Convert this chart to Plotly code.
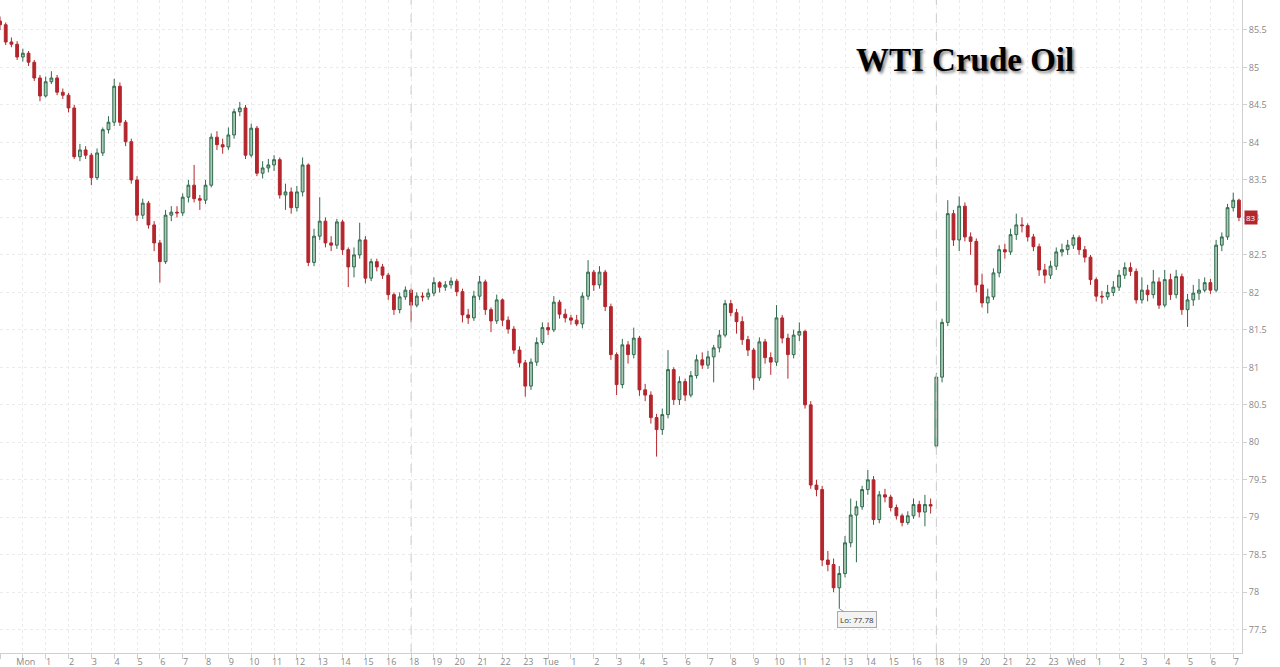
import pandas as pd
import plotly.graph_objects as go

# WTI front-month, 15-minute bars from Sunday 23:00 to Wednesday 07:15 (daily 17:00 break skipped)
start = "2024-04-28 23:00"
end = "2024-05-01 07:15"
first_open = 85.62
session_open = {"2024-04-30 18:00": 79.95}  # gap open after the Tuesday break

close = [
    85.57, 85.34, 85.31, 85.14,
    # Mon
    85.19, 85.07, 84.86, 84.62, 84.81, 84.86, 84.67, 84.63, 84.46, 83.81,
    83.9, 83.83, 83.53, 83.86, 84.17, 84.27, 84.75, 84.27, 84.01, 83.5,
    83.03, 83.19, 82.9, 82.66, 82.41, 83.03, 83.07, 83.06, 83.27, 83.43,
    83.25, 83.23, 83.43, 84.07, 83.97, 83.94, 84.1, 84.41, 84.46, 83.83,
    84.19, 83.59, 83.66, 83.7, 83.77, 83.3, 83.34, 83.13, 83.34, 83.7,
    82.4, 82.75, 82.95, 82.66, 82.63, 82.94, 82.57, 82.34, 82.5, 82.7,
    82.19, 82.41, 82.34, 82.23, 81.97, 81.77, 81.94, 82.03,
    # Mon evening
    81.83, 81.95, 81.94, 81.99, 82.13, 82.07, 82.1, 82.15, 82.01, 81.7,
    81.66, 81.95, 82.14, 81.77, 81.62, 81.9, 81.63, 81.51, 81.23, 81.06,
    80.75, 81.07, 81.33, 81.53,
    # Tue
    81.5, 81.87, 81.71, 81.66, 81.63, 81.58, 81.95, 82.27, 82.1, 82.27,
    81.81, 81.17, 80.77, 81.3, 81.17, 81.39, 80.7, 80.63, 80.33, 80.17,
    80.37, 80.97, 80.57, 80.81, 80.63, 80.89, 81.1, 81.03, 81.14, 81.26,
    81.43, 81.85, 81.73, 81.61, 81.37, 81.23, 80.86, 81.34, 81.13, 81.07,
    81.66, 81.39, 81.17, 81.43, 81.48, 80.5, 79.43, 79.37, 78.43, 78.37,
    78.06, 78.25, 78.66, 79.03, 79.14, 79.37, 79.5, 78.97, 79.3, 79.27,
    79.13, 79.02, 78.93, 79.02, 79.17, 79.07, 79.17, 79.15,
    # Tue evening
    80.87, 81.6, 83.05, 82.7, 83.15, 82.74, 82.68, 82.1, 81.86, 81.94,
    82.26, 82.57, 82.54, 82.77, 82.9, 82.89, 82.74, 82.61, 82.3, 82.23,
    82.35, 82.54, 82.57, 82.63,
    # Wed
    82.73, 82.57, 82.47, 82.17, 81.95, 81.94, 82.0, 82.07, 82.23, 82.33,
    82.28, 81.9, 82.03, 81.97, 82.14, 81.83, 82.17, 81.97, 82.21, 81.77,
    81.9, 81.99, 82.03, 82.13, 82.03, 82.63, 82.74, 83.13, 83.23, 83.0,
]

high = [
    85.68, 85.6, 85.4, 85.35,
    85.25, 85.22, 85.1, 84.9, 84.88, 84.95, 84.9, 84.72, 84.66, 84.5,
    83.98, 83.95, 83.86, 83.92, 84.2, 84.35, 84.85, 84.8, 84.3, 84.05,
    83.55, 83.25, 83.22, 82.95, 82.7, 83.1, 83.15, 83.15, 83.32, 83.5,
    83.7, 83.3, 83.5, 84.12, 84.15, 84.05, 84.2, 84.45, 84.54, 84.5,
    84.25, 84.22, 83.75, 83.78, 83.83, 83.8, 83.45, 83.4, 83.42, 83.8,
    83.72, 82.85, 83.27, 83.0, 82.75, 82.98, 82.97, 82.6, 82.6, 82.93,
    82.75, 82.45, 82.45, 82.38, 82.26, 82.0, 82.0, 82.08,
    82.05, 82.0, 82.0, 82.05, 82.2, 82.15, 82.15, 82.2, 82.18, 82.05,
    81.78, 82.02, 82.22, 82.17, 81.8, 81.97, 81.92, 81.68, 81.55, 81.28,
    81.1, 81.12, 81.4, 81.6,
    81.6, 81.95, 81.9, 81.78, 81.7, 81.7, 82.0, 82.43, 82.3, 82.35,
    82.3, 81.85, 81.2, 81.38, 81.35, 81.53, 81.42, 80.78, 80.68, 80.38,
    80.45, 81.23, 81.0, 80.88, 80.85, 80.95, 81.17, 81.2, 81.22, 81.3,
    81.5, 81.9, 81.9, 81.78, 81.68, 81.42, 81.26, 81.4, 81.38, 81.2,
    81.83, 81.7, 81.45, 81.5, 81.6, 81.5, 80.55, 79.5, 79.42, 78.55,
    78.45, 78.35, 78.75, 79.25, 79.22, 79.42, 79.63, 79.55, 79.35, 79.38,
    79.3, 79.17, 79.05, 79.08, 79.25, 79.22, 79.3, 79.25,
    80.92, 81.65, 83.23, 83.1, 83.28, 83.2, 82.8, 82.72, 82.25, 82.05,
    82.32, 82.63, 82.65, 82.85, 83.05, 83.0, 82.92, 82.78, 82.65, 82.38,
    82.42, 82.6, 82.65, 82.7,
    82.77, 82.76, 82.62, 82.5, 82.2, 82.02, 82.1, 82.15, 82.3, 82.4,
    82.4, 82.32, 82.2, 82.1, 82.3, 82.2, 82.3, 82.25, 82.3, 82.25,
    81.98, 82.1, 82.18, 82.2, 82.18, 82.7, 82.8, 83.18, 83.33, 83.25,
]

low = [
    85.5, 85.3, 85.27, 85.1,
    85.08, 85.02, 84.82, 84.55, 84.6, 84.78, 84.63, 84.58, 84.4, 83.78,
    83.75, 83.78, 83.43, 83.5, 83.82, 84.12, 84.22, 84.22, 83.95, 83.45,
    82.95, 82.98, 82.85, 82.55, 82.13, 82.38, 82.95, 83.0, 83.02, 83.2,
    83.2, 83.1, 83.18, 83.4, 83.9, 83.85, 83.9, 84.05, 84.35, 83.78,
    83.8, 83.55, 83.52, 83.6, 83.62, 83.25, 83.1, 83.05, 83.08, 83.28,
    82.35, 82.35, 82.7, 82.6, 82.55, 82.58, 82.5, 82.07, 82.2, 82.45,
    82.12, 82.15, 82.28, 82.18, 81.9, 81.7, 81.72, 81.9,
    81.6, 81.8, 81.88, 81.9, 81.95, 82.0, 82.02, 82.05, 81.95, 81.6,
    81.58, 81.62, 81.9, 81.7, 81.47, 81.58, 81.55, 81.45, 81.18, 81.0,
    80.61, 80.7, 81.02, 81.3,
    81.43, 81.47, 81.65, 81.6, 81.57, 81.55, 81.52, 81.9, 82.02, 82.05,
    81.75, 81.1, 80.63, 80.72, 81.05, 81.12, 80.62, 80.55, 80.25, 79.81,
    80.1, 80.32, 80.5, 80.5, 80.55, 80.6, 80.85, 80.98, 80.98, 80.8,
    81.2, 81.4, 81.68, 81.45, 81.3, 81.15, 80.7, 80.82, 81.05, 80.9,
    81.02, 81.32, 80.85, 81.12, 81.35, 80.45, 79.38, 79.28, 78.35, 78.28,
    78.0, 77.78, 78.2, 78.6, 78.4, 79.1, 79.3, 78.9, 78.92, 79.2,
    79.08, 78.97, 78.88, 78.9, 78.98, 79.0, 78.88, 79.05,
    79.92, 80.8, 81.55, 82.62, 82.55, 82.68, 82.5, 82.0, 81.8, 81.72,
    81.9, 82.2, 82.45, 82.5, 82.7, 82.8, 82.68, 82.55, 82.22, 82.12,
    82.18, 82.3, 82.48, 82.5,
    82.58, 82.5, 82.4, 82.1, 81.88, 81.85, 81.9, 81.95, 82.02, 82.18,
    82.22, 81.85, 81.85, 81.88, 81.92, 81.78, 81.8, 81.9, 81.92, 81.7,
    81.54, 81.82, 81.9, 82.0, 81.98, 82.0, 82.55, 82.7, 83.08, 82.95,
]

times = pd.date_range(start, end, freq="15min")
times = times[times.hour != 17]

opens = [first_open] + close[:-1]
for t, v in session_open.items():
    opens[times.get_loc(pd.Timestamp(t))] = v

# hourly ticks, day name at midnight
hours = pd.date_range(start, "2024-05-01 07:00", freq="h")
hours = hours[hours.hour != 17]
tick_text = [h.strftime("%a") if h.hour == 0 else str(h.hour) for h in hours]

fig = go.Figure()
fig.add_trace(go.Candlestick(
    x=times, open=opens, high=high, low=low, close=close,
    increasing=dict(line=dict(color="#2f6b4c", width=1), fillcolor="#a8c9b6"),
    decreasing=dict(line=dict(color="#b3262c", width=1), fillcolor="#b3262c"),
    whiskerwidth=0, showlegend=False,
))

# session start markers
for h in hours[hours.hour == 18]:
    fig.add_vline(x=h, line=dict(color="#cccccc", width=1, dash="dash"))

lo_i = low.index(min(low))
fig.add_annotation(
    x=times[lo_i], y=low[lo_i], text=f"Lo: {low[lo_i]:.2f}",
    showarrow=True, arrowhead=0, arrowwidth=1, arrowcolor="#999999",
    ax=18, ay=11, bgcolor="#f3f3f3", bordercolor="#aaaaaa", borderwidth=1, borderpad=2,
    font=dict(family="Open Sans", size=8, color="#333333"),
)

fig.add_annotation(
    x=1, xref="paper", xanchor="left", xshift=2, y=close[-1], yref="y",
    text=f"{close[-1]:g}", showarrow=False, bgcolor="#b3262c", borderpad=1,
    font=dict(family="Open Sans", size=8, color="white"),
)

fig.add_annotation(
    x=0.777, y=0.908, xref="paper", yref="paper", xanchor="center", yanchor="middle",
    text="WTI Crude Oil", showarrow=False,
    font=dict(family="Liberation Serif", size=33, color="black", weight="bold",
              shadow="2px 2px 3px #777777"),
)

fig.update_xaxes(
    type="date", range=[times[0], pd.Timestamp("2024-05-01 07:23")],
    rangebreaks=[dict(bounds=[17, 18], pattern="hour")],
    rangeslider_visible=False,
    tickvals=hours, ticktext=tick_text, ticklabelshift=3, ticklabelstandoff=-5,
    showgrid=True, gridcolor="#ebebeb", griddash="dot",
    ticks="outside", ticklen=5, tickcolor="#cfcfcf",
    showline=True, linecolor="#cfcfcf", zeroline=False, automargin=False,
    tickfont=dict(family="Open Sans", size=9, color="#888888"),
)
fig.update_yaxes(
    side="right", range=[77.19, 85.9], tick0=77.5, dtick=0.5,
    showgrid=True, gridcolor="#ebebeb", griddash="dot",
    ticks="outside", ticklen=4, tickcolor="#cfcfcf",
    showline=True, linecolor="#cfcfcf", zeroline=False, automargin=False,
    tickfont=dict(family="Open Sans", size=9, color="#888888"),
)
fig.update_layout(
    width=1280, height=667,
    margin=dict(l=0, r=38, t=0, b=14),
    plot_bgcolor="white", paper_bgcolor="white",
)

# the page body has a default 8px margin; drop it so the figure fills the window
fig.write_html("out.html", config={"displayModeBar": False},
               post_script="document.body.style.margin = '0';")
